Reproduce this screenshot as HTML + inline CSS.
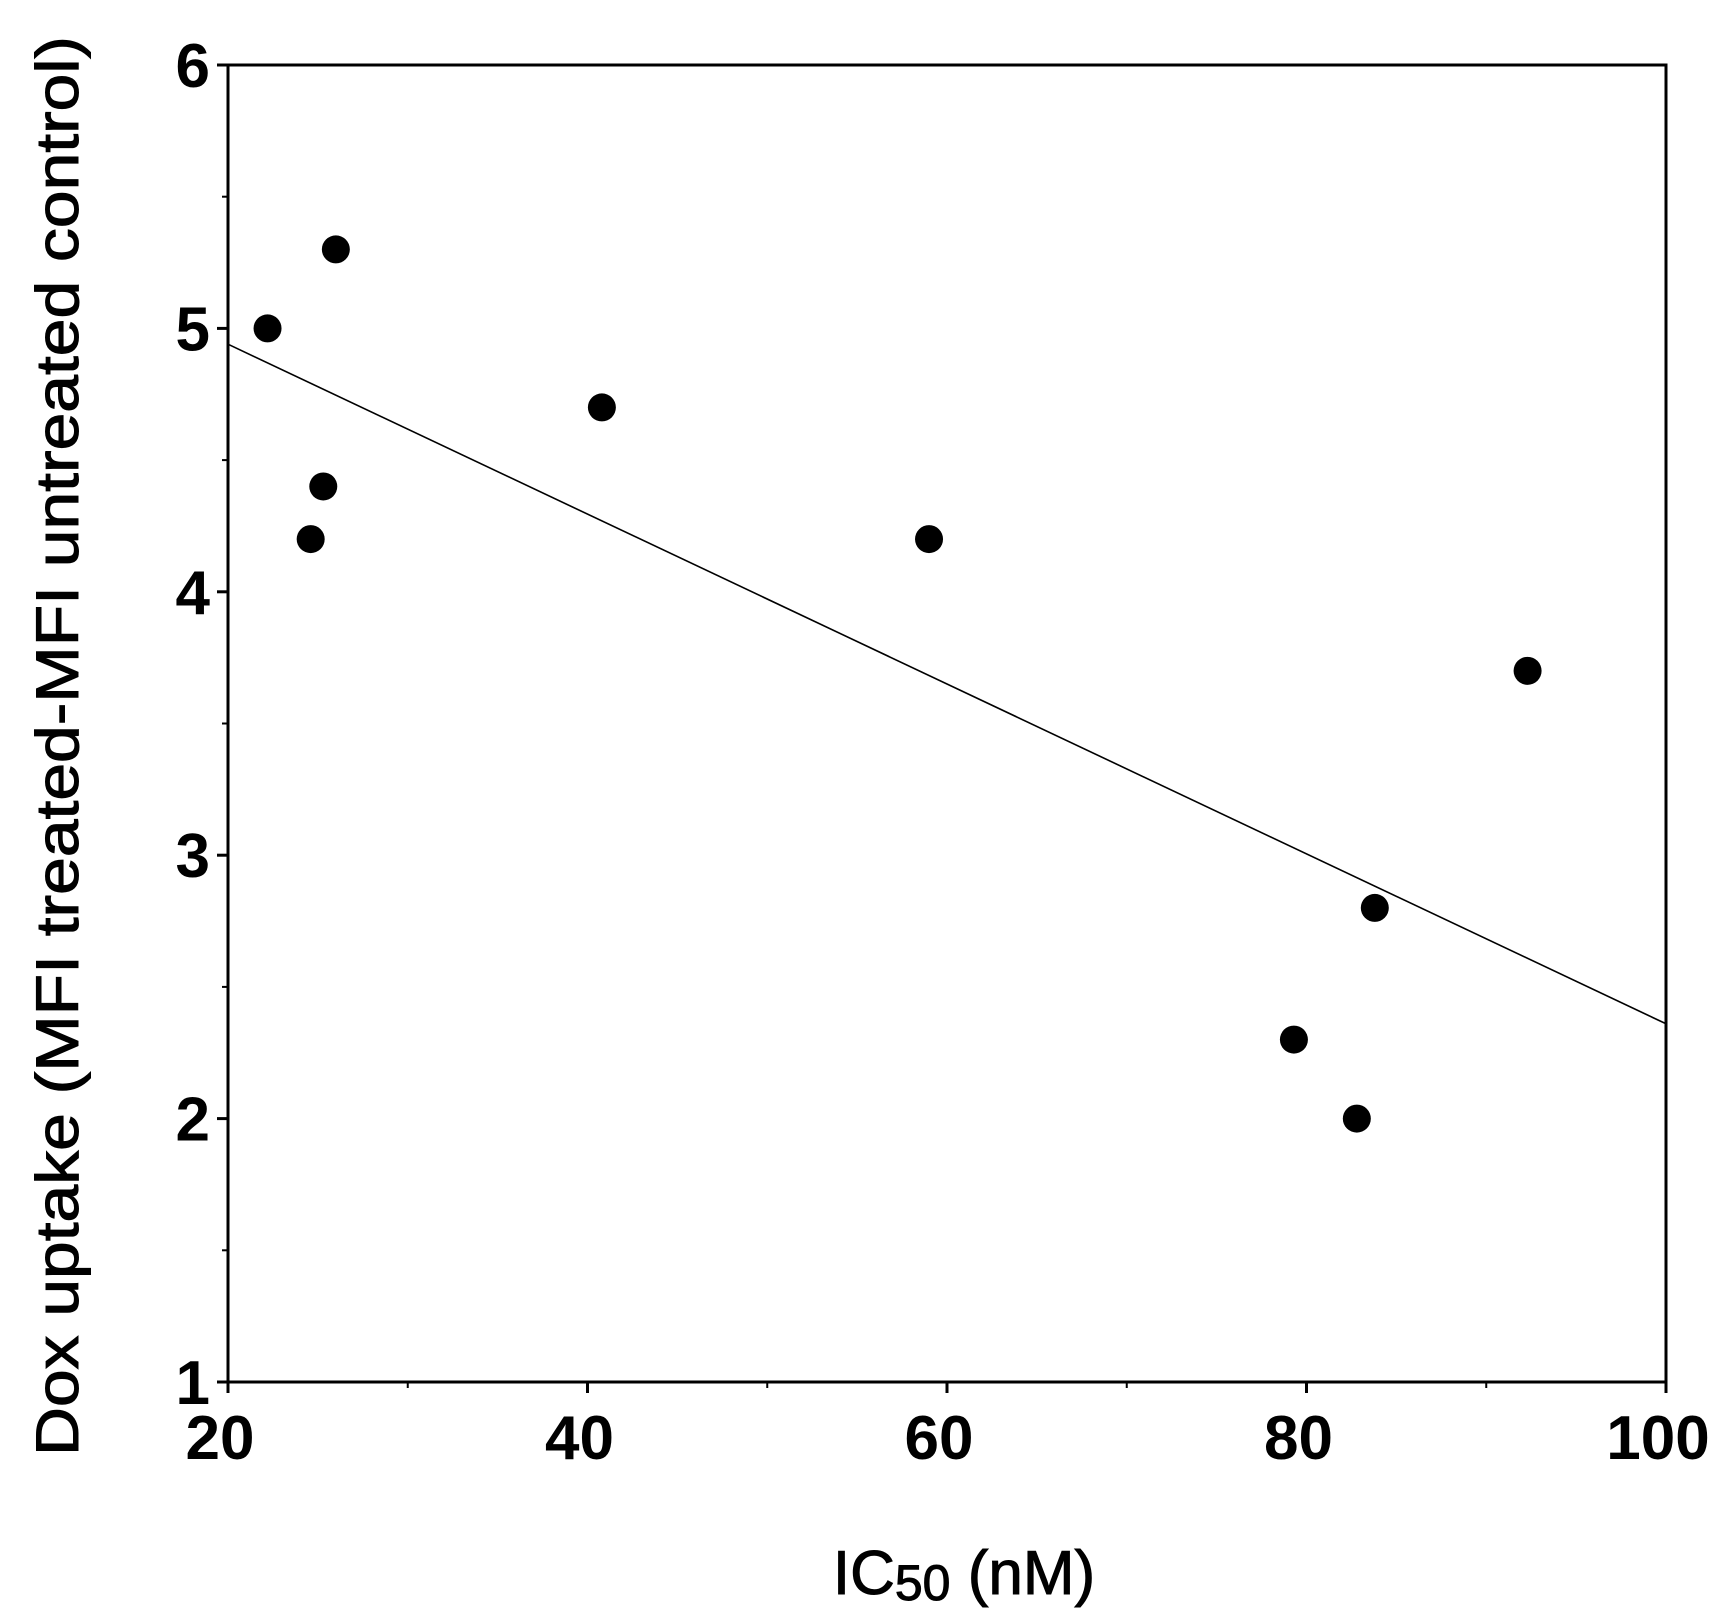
<!DOCTYPE html>
<html><head><meta charset="utf-8"><style>
html,body{margin:0;padding:0;background:#fff}
svg{display:block}
</style></head><body>
<svg id="chart" width="1736" height="1611" xmlns="http://www.w3.org/2000/svg">
<g id="axes"></g>
<g id="marks"></g>
<text transform="translate(78,746) rotate(-90)" text-anchor="middle" font-family="Liberation Sans, sans-serif" font-size="60" stroke="#000" stroke-width="1" fill="#000" textLength="1420" lengthAdjust="spacingAndGlyphs">Dox uptake (MFI treated-MFI untreated control)</text>
<text x="964" y="1594" text-anchor="middle" font-family="Liberation Sans, sans-serif" font-size="62" stroke="#000" stroke-width="1" fill="#000">IC<tspan font-size="50" dy="6">50</tspan><tspan dy="-6"> (nM)</tspan></text>
</svg>
<script>
const xVals = [22.2, 26.0, 25.3, 24.6, 40.8, 59.0, 92.3, 83.8, 79.3, 82.8];
const yVals = [5.0, 5.3, 4.4, 4.2, 4.7, 4.2, 3.7, 2.8, 2.3, 2.0];
const fitX = [20, 100];
const fitY = [4.94, 2.36];
const xTicks = [20, 40, 60, 80, 100];
const yTicks = [1, 2, 3, 4, 5, 6];
const xMinor = [30, 50, 70, 90];
const yMinor = [1.5, 2.5, 3.5, 4.5, 5.5];

const L=228,R=1666,T=65,B=1382;
const sx=v=>L+(v-20)/80*(R-L);
const sy=v=>B-(v-1)/5*(B-T);
const NS="http://www.w3.org/2000/svg";
const axes=document.getElementById('axes'),marks=document.getElementById('marks');
function mk(tag,attrs,parent){const e=document.createElementNS(NS,tag);for(const k in attrs)e.setAttribute(k,attrs[k]);parent.appendChild(e);return e;}
const frame=mk('rect',{x:L,y:T,width:R-L,height:B-T,fill:'none',stroke:'#000','stroke-width':3},axes);


xTicks.forEach(v=>{
  const t=mk('line',{x1:sx(v),x2:sx(v),y1:B,y2:B+11,stroke:'#000','stroke-width':3},axes);
  
  
  const l=mk('text',{x:sx(v)-8,y:B+77,'text-anchor':'middle','font-family':'Liberation Sans, sans-serif','font-size':62,'font-weight':'bold'},axes);
  l.textContent=v;
  
  
});
xMinor.forEach(v=>{
  const t=mk('line',{x1:sx(v),x2:sx(v),y1:B,y2:B+6,stroke:'#000','stroke-width':2},axes);
  
  
});
yTicks.forEach(v=>{
  const t=mk('line',{x1:L-11,x2:L,y1:sy(v),y2:sy(v),stroke:'#000','stroke-width':3},axes);
  
  
  const l=mk('text',{x:L-18,y:sy(v)+22,'text-anchor':'end','font-family':'Liberation Sans, sans-serif','font-size':62,'font-weight':'bold'},axes);
  l.textContent=v;
  
  
});
yMinor.forEach(v=>{
  const t=mk('line',{x1:L-6,x2:L,y1:sy(v),y2:sy(v),stroke:'#000','stroke-width':2},axes);
  
  
});
const fit=mk('line',{x1:sx(fitX[0]),y1:sy(fitY[0]),x2:sx(fitX[1]),y2:sy(fitY[1]),stroke:'#000','stroke-width':1.6},marks);


xVals.forEach((v,i)=>{
  const c=mk('circle',{cx:sx(v),cy:sy(yVals[i]),r:14,fill:'#000'},marks);
  
  
});
</script>
</body></html>
